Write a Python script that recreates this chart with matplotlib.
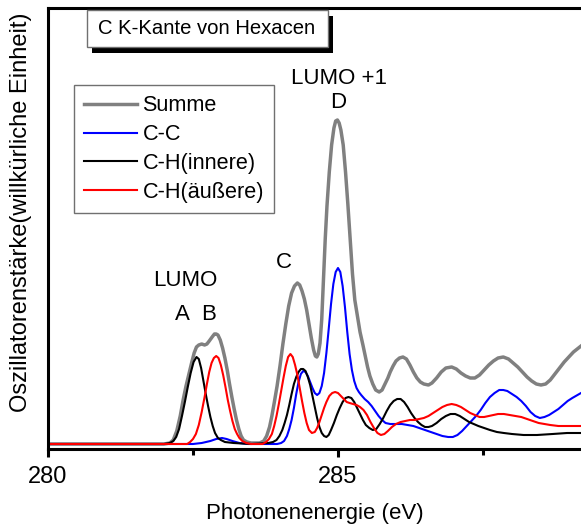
import matplotlib
matplotlib.use('Agg')
import matplotlib.pyplot as plt
from matplotlib.patches import Rectangle

plt.rcParams['font.family'] = ['Liberation Sans', 'DejaVu Sans']

# Photon energy (eV) and oscillator strength (arb. units) for each contribution
e_sum = [280.0, 282.00, 282.10, 282.16, 282.22, 282.28, 282.33, 282.38, 282.43, 282.48,
         282.52, 282.56, 282.60, 282.65, 282.70, 282.74, 282.78, 282.83, 282.87, 282.90,
         282.93, 282.97, 283.01, 283.05, 283.09, 283.13, 283.17, 283.21, 283.25, 283.29,
         283.33, 283.37, 283.43, 283.50, 283.65, 283.72, 283.77, 283.82, 283.86, 283.90,
         283.95, 284.00, 284.05, 284.10, 284.15, 284.20, 284.25, 284.30, 284.34, 284.38,
         284.42, 284.46, 284.50, 284.54, 284.58, 284.61, 284.635, 284.66, 284.69, 284.72,
         284.75, 284.78, 284.81, 284.85, 284.89, 284.93, 284.96, 284.99, 285.02, 285.05,
         285.09, 285.13, 285.17, 285.21, 285.25, 285.29, 285.34, 285.38, 285.43, 285.47,
         285.51, 285.55, 285.60, 285.65, 285.71, 285.76, 285.81, 285.86, 285.90, 285.95,
         286.00, 286.06, 286.12, 286.18, 286.24, 286.30, 286.36, 286.42, 286.48, 286.56,
         286.62, 286.70, 286.78, 286.86, 286.96, 287.04, 287.12, 287.20, 287.28, 287.36,
         287.44, 287.52, 287.60, 287.68, 287.76, 287.85, 287.94, 288.02, 288.10, 288.18,
         288.26, 288.34, 288.42, 288.50, 288.58, 288.66, 288.74, 288.82, 288.90, 288.98,
         289.06, 289.19]
i_sum = [0, 0, 1, 4, 13, 28, 44, 58, 70, 82,
         91, 97, 99, 100, 99, 100, 103, 107, 110, 110,
         109, 104, 96, 86, 74, 60, 47, 35, 24, 15,
         8, 4, 2, 1, 1, 3, 8, 17, 28, 41,
         58, 78, 100, 120, 138, 151, 158, 161, 159, 153,
         145, 134, 120, 106, 94, 88, 87, 90, 101, 125,
         165, 205, 238, 272, 299, 316, 323, 324, 321, 314,
         299, 272, 240, 205, 170, 144, 126, 112, 99, 88,
         77, 68, 60, 54, 52, 54, 60, 66, 72, 78,
         83, 86, 87, 85, 79, 72, 66, 62, 60, 59,
         61, 66, 72, 76, 77, 75, 71, 68, 66, 66,
         69, 74, 79, 83, 86, 87, 85, 81, 77, 72,
         67, 63, 60, 59, 60, 64, 70, 76, 82, 87,
         92, 98]

e_cc = [280.0, 282.50, 282.65, 282.80, 282.90, 283.00, 283.08, 283.18, 283.30, 283.45,
        283.95, 284.02, 284.07, 284.12, 284.16, 284.20, 284.24, 284.28, 284.32, 284.36,
        284.40, 284.44, 284.48, 284.52, 284.56, 284.60, 284.64, 284.68, 284.72, 284.76,
        284.80, 284.84, 284.88, 284.92, 284.96, 285.00, 285.04, 285.08, 285.12, 285.16,
        285.20, 285.24, 285.28, 285.32, 285.36, 285.40, 285.46, 285.52, 285.58, 285.64,
        285.70, 285.76, 285.82, 285.90, 286.00, 286.10, 286.20, 286.30, 286.40, 286.50,
        286.60, 286.70, 286.80, 286.90, 286.98, 287.06, 287.14, 287.22, 287.30, 287.38,
        287.46, 287.54, 287.62, 287.70, 287.78, 287.85, 287.92, 288.00, 288.08, 288.16,
        288.24, 288.32, 288.40, 288.48, 288.56, 288.64, 288.72, 288.80, 288.88, 288.96,
        289.04, 289.19]
i_cc = [0, 0, 1, 3, 5, 6, 5, 3, 1, 0,
        0, 1, 3, 8, 15, 24, 36, 50, 62, 70,
        73, 72, 68, 62, 56, 51, 49, 51, 58, 71,
        91, 115, 140, 160, 172, 176, 172, 158, 137, 112,
        90, 74, 63, 56, 52, 49, 45, 42, 38, 33,
        28, 24, 21, 20, 20, 20, 19, 18, 16, 14,
        12, 10, 8, 7, 7, 9, 13, 18, 23, 28,
        34, 41, 47, 51, 54, 54, 53, 50, 47, 43,
        38, 32, 28, 26, 27, 29, 32, 35, 39, 43,
        46, 51]

e_ch_in = [280.0, 282.00, 282.10, 282.16, 282.21, 282.26, 282.31, 282.36, 282.41, 282.46,
           282.51, 282.56, 282.60, 282.64, 282.68, 282.72, 282.76, 282.80, 282.84, 282.88,
           282.93, 282.98, 283.05, 283.20, 283.50, 283.80, 283.88, 283.94, 283.99, 284.04,
           284.08, 284.12, 284.16, 284.20, 284.24, 284.28, 284.32, 284.36, 284.40, 284.44,
           284.48, 284.52, 284.56, 284.60, 284.64, 284.68, 284.72, 284.76, 284.80, 284.84,
           284.88, 284.93, 284.98, 285.03, 285.08, 285.13, 285.18, 285.23, 285.28, 285.33,
           285.38, 285.43, 285.48, 285.54, 285.60, 285.66, 285.72, 285.78, 285.84, 285.90,
           285.96, 286.02, 286.08, 286.14, 286.20, 286.26, 286.32, 286.38, 286.44, 286.50,
           286.56, 286.62, 286.70, 286.78, 286.86, 286.94, 287.02, 287.10, 287.18, 287.26,
           287.34, 287.42, 287.52, 287.62, 287.74, 287.86, 288.00, 288.20, 288.43, 288.70,
           288.95, 289.19]
i_ch_in = [0, 0, 1, 3, 7, 15, 28, 42, 57, 71,
           82, 87, 85, 76, 63, 50, 38, 27, 18, 11,
           6, 4, 2, 1, 0, 1, 2, 4, 8, 14,
           21, 29, 39, 50, 60, 67, 72, 75, 75, 73,
           67, 59, 48, 37, 26, 17, 11, 8, 7, 9,
           14, 21, 29, 36, 42, 46, 47, 46, 42, 36,
           30, 24, 19, 16, 14, 15, 20, 26, 33, 39,
           43, 45, 45, 42, 37, 31, 26, 22, 19, 17,
           17, 18, 21, 25, 28, 30, 30, 28, 25, 22,
           20, 18, 16, 14, 12, 11, 10, 9, 9, 10,
           11, 11]

e_ch_out = [280.0, 282.40, 282.45, 282.50, 282.55, 282.60, 282.65, 282.70, 282.74, 282.78,
            282.82, 282.86, 282.90, 282.94, 282.98, 283.02, 283.06, 283.10, 283.14, 283.18,
            283.22, 283.26, 283.30, 283.35, 283.42, 283.50, 283.70, 283.76, 283.81, 283.86,
            283.90, 283.94, 283.98, 284.02, 284.06, 284.10, 284.14, 284.18, 284.22, 284.26,
            284.30, 284.34, 284.38, 284.42, 284.46, 284.50, 284.55, 284.60, 284.64, 284.68,
            284.72, 284.76, 284.80, 284.85, 284.90, 284.95, 285.00, 285.05, 285.10, 285.15,
            285.20, 285.26, 285.32, 285.38, 285.44, 285.50, 285.56, 285.62, 285.68, 285.74,
            285.80, 285.86, 285.93, 286.00, 286.08, 286.16, 286.24, 286.32, 286.40, 286.48,
            286.56, 286.64, 286.72, 286.80, 286.88, 286.96, 287.04, 287.12, 287.20, 287.28,
            287.36, 287.44, 287.52, 287.60, 287.68, 287.76, 287.86, 287.96, 288.06, 288.16,
            288.26, 288.36, 288.46, 288.56, 288.66, 288.80, 288.95, 289.19]
i_ch_out = [0, 0, 2, 5, 10, 19, 32, 47, 60, 72,
            81, 86, 88, 86, 79, 69, 57, 44, 33, 23,
            15, 10, 6, 3, 1, 0, 0, 2, 5, 10,
            18, 28, 40, 53, 66, 78, 87, 90, 87, 79,
            69, 56, 43, 31, 21, 14, 11, 12, 16, 22,
            29, 36, 42, 48, 51, 52, 51, 48, 45, 42,
            41, 40, 39, 37, 34, 29, 22, 16, 11, 9,
            10, 13, 17, 20, 22, 23, 24, 24, 25, 26,
            28, 31, 34, 37, 39, 40, 39, 37, 34, 31,
            29, 27, 27, 28, 29, 30, 30, 29, 28, 27,
            25, 23, 21, 20, 19, 18, 18, 18]

fig = plt.figure(figsize=(5.81, 5.26), dpi=100)
W, H = 581.0, 526.0
ax = fig.add_axes([48 / W, 1 - 449 / H, 533 / W, 441 / H])

ax.plot(e_sum, i_sum, color='#808080', lw=2.5, label='Summe')
ax.plot(e_cc, i_cc, color='#0000ff', lw=1.5, label='C-C')
ax.plot(e_ch_in, i_ch_in, color='black', lw=1.5, label='C-H(innere)')
ax.plot(e_ch_out, i_ch_out, color='#ff0000', lw=1.5, label='C-H(äußere)')

ax.set_xlim(280, 289.19)
ax.set_ylim(-5, 436)

for side in ['left', 'top', 'bottom']:
    ax.spines[side].set_linewidth(2.2)
ax.spines['right'].set_visible(False)
ax.set_yticks([])
ax.set_xticks([280, 285])
ax.set_xticks([282.5, 287.5], minor=True)
ax.tick_params(axis='x', which='major', length=6, width=2.2, labelsize=17, pad=6)
ax.tick_params(axis='x', which='minor', length=4, width=2.2)

ax.set_xlabel('Photonenenergie (eV)', fontsize=16, labelpad=11)
fig.text(21 / W, 1 - 212 / H, 'Oszillatorenstärke(willkürliche Einheit)',
         rotation=90, fontsize=17, ha='center', va='center')

# peak annotations
ax.text(285.02, 366, 'LUMO +1', fontsize=16, ha='center', va='center')
ax.text(285.00, 341, 'D', fontsize=16, ha='center', va='center')
ax.text(284.07, 182, 'C', fontsize=16, ha='center', va='center')
ax.text(282.36, 163, 'LUMO', fontsize=16, ha='center', va='center')
ax.text(282.31, 129, 'A', fontsize=16, ha='center', va='center')
ax.text(282.76, 129, 'B', fontsize=16, ha='center', va='center')

leg = ax.legend(loc='upper left', bbox_to_anchor=(74 / W, 1 - 85 / H),
                bbox_transform=fig.transFigure, fontsize=15.6, fancybox=False,
                framealpha=1, edgecolor='#707070', borderaxespad=0,
                handlelength=2.45, handletextpad=0.23, labelspacing=0.36,
                borderpad=0.48)
leg.get_frame().set_linewidth(1.0)

# title box with a drop shadow
fig.patches.append(Rectangle((92 / W, 1 - 53 / H), 241 / W, 37 / H,
                             transform=fig.transFigure, fc='black', ec='none'))
fig.patches.append(Rectangle((87 / W, 1 - 47 / H), 241 / W, 37 / H,
                             transform=fig.transFigure, fc='white', ec='#707070', lw=1))
fig.text(207 / W, 1 - 29 / H, 'C K-Kante von Hexacen', fontsize=14.6,
         ha='center', va='center')

fig.savefig('out.png', dpi=100)
